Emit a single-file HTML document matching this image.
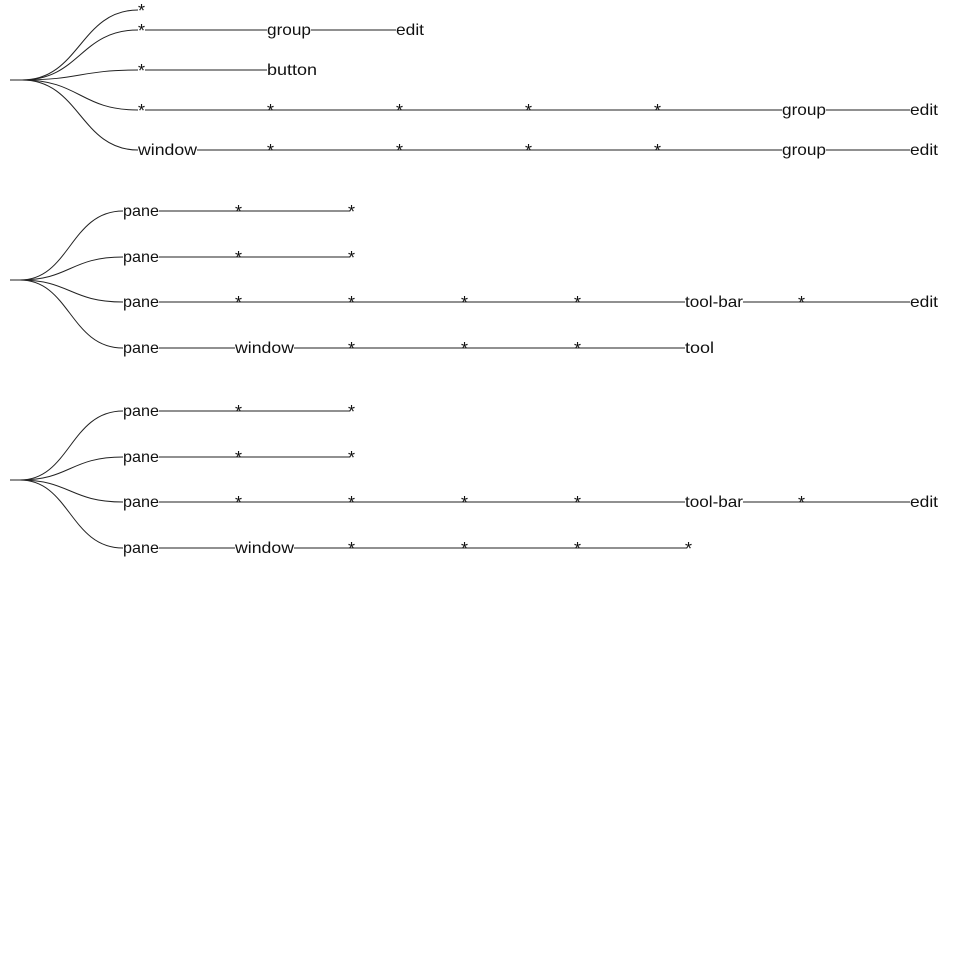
<!DOCTYPE html>
<html><head><meta charset="utf-8"><style>
html,body{margin:0;padding:0;background:#fff;width:960px;height:960px;overflow:hidden}
text{font-family:"Liberation Sans",sans-serif;font-size:16px;fill:#111}
text.a{font-size:18px}
path,line{stroke:#222;stroke-width:1;fill:none}
</style></head><body>
<svg width="960" height="960" xmlns="http://www.w3.org/2000/svg">
<!-- Tree 1 -->
<path d="M10,80 L22,80 C80,80 80,10 138,10"/>
<path d="M10,80 L22,80 C80,80 80,30 138,30"/>
<path d="M10,80 L22,80 C80,80 80,70 138,70"/>
<path d="M10,80 L22,80 C80,80 80,110 138,110"/>
<path d="M10,80 L22,80 C80,80 80,150 138,150"/>
<text class="a" x="138" y="17">*</text>
<text class="a" x="138" y="37">*</text><line x1="145" y1="30" x2="267" y2="30"/>
<text x="267" y="35" textLength="44" lengthAdjust="spacingAndGlyphs">group</text><line x1="311" y1="30" x2="396" y2="30"/>
<text x="396" y="35" textLength="28" lengthAdjust="spacingAndGlyphs">edit</text>
<text class="a" x="138" y="77">*</text><line x1="145" y1="70" x2="267" y2="70"/>
<text x="267" y="75" textLength="50" lengthAdjust="spacingAndGlyphs">button</text>
<text class="a" x="138" y="117">*</text><line x1="145" y1="110" x2="782" y2="110"/>
<text class="a" x="267" y="117">*</text><text class="a" x="396" y="117">*</text><text class="a" x="525" y="117">*</text><text class="a" x="654" y="117">*</text>
<text x="782" y="115" textLength="44" lengthAdjust="spacingAndGlyphs">group</text><line x1="826" y1="110" x2="910" y2="110"/>
<text x="910" y="115" textLength="28" lengthAdjust="spacingAndGlyphs">edit</text>
<text x="138" y="155" textLength="59" lengthAdjust="spacingAndGlyphs">window</text><line x1="197" y1="150" x2="782" y2="150"/>
<text class="a" x="267" y="157">*</text><text class="a" x="396" y="157">*</text><text class="a" x="525" y="157">*</text><text class="a" x="654" y="157">*</text>
<text x="782" y="155" textLength="44" lengthAdjust="spacingAndGlyphs">group</text><line x1="826" y1="150" x2="910" y2="150"/>
<text x="910" y="155" textLength="28" lengthAdjust="spacingAndGlyphs">edit</text>

<!-- Tree 2 -->
<path d="M10,280 L20,280 C70,280 70,211 123,211"/>
<path d="M10,280 L20,280 C70,280 70,257 123,257"/>
<path d="M10,280 L20,280 C70,280 70,302 123,302"/>
<path d="M10,280 L20,280 C70,280 70,348 123,348"/>
<text x="123" y="216" textLength="36" lengthAdjust="spacingAndGlyphs">pane</text><line x1="159" y1="211" x2="350" y2="211"/>
<text class="a" x="235" y="218">*</text><text class="a" x="348" y="218">*</text>
<text x="123" y="262" textLength="36" lengthAdjust="spacingAndGlyphs">pane</text><line x1="159" y1="257" x2="350" y2="257"/>
<text class="a" x="235" y="264">*</text><text class="a" x="348" y="264">*</text>
<text x="123" y="307" textLength="36" lengthAdjust="spacingAndGlyphs">pane</text><line x1="159" y1="302" x2="685" y2="302"/>
<text class="a" x="235" y="309">*</text><text class="a" x="348" y="309">*</text><text class="a" x="461" y="309">*</text><text class="a" x="574" y="309">*</text>
<text x="685" y="307" textLength="58" lengthAdjust="spacingAndGlyphs">tool-bar</text><line x1="743" y1="302" x2="910" y2="302"/>
<text class="a" x="798" y="309">*</text>
<text x="910" y="307" textLength="28" lengthAdjust="spacingAndGlyphs">edit</text>
<text x="123" y="353" textLength="36" lengthAdjust="spacingAndGlyphs">pane</text><line x1="159" y1="348" x2="235" y2="348"/>
<text x="235" y="353" textLength="59" lengthAdjust="spacingAndGlyphs">window</text><line x1="294" y1="348" x2="685" y2="348"/>
<text class="a" x="348" y="355">*</text><text class="a" x="461" y="355">*</text><text class="a" x="574" y="355">*</text>
<text x="685" y="353" textLength="29" lengthAdjust="spacingAndGlyphs">tool</text>

<!-- Tree 3 -->
<path d="M10,480 L20,480 C70,480 70,411 123,411"/>
<path d="M10,480 L20,480 C70,480 70,457 123,457"/>
<path d="M10,480 L20,480 C70,480 70,502 123,502"/>
<path d="M10,480 L20,480 C70,480 70,548 123,548"/>
<text x="123" y="416" textLength="36" lengthAdjust="spacingAndGlyphs">pane</text><line x1="159" y1="411" x2="350" y2="411"/>
<text class="a" x="235" y="418">*</text><text class="a" x="348" y="418">*</text>
<text x="123" y="462" textLength="36" lengthAdjust="spacingAndGlyphs">pane</text><line x1="159" y1="457" x2="350" y2="457"/>
<text class="a" x="235" y="464">*</text><text class="a" x="348" y="464">*</text>
<text x="123" y="507" textLength="36" lengthAdjust="spacingAndGlyphs">pane</text><line x1="159" y1="502" x2="685" y2="502"/>
<text class="a" x="235" y="509">*</text><text class="a" x="348" y="509">*</text><text class="a" x="461" y="509">*</text><text class="a" x="574" y="509">*</text>
<text x="685" y="507" textLength="58" lengthAdjust="spacingAndGlyphs">tool-bar</text><line x1="743" y1="502" x2="910" y2="502"/>
<text class="a" x="798" y="509">*</text>
<text x="910" y="507" textLength="28" lengthAdjust="spacingAndGlyphs">edit</text>
<text x="123" y="553" textLength="36" lengthAdjust="spacingAndGlyphs">pane</text><line x1="159" y1="548" x2="235" y2="548"/>
<text x="235" y="553" textLength="59" lengthAdjust="spacingAndGlyphs">window</text><line x1="294" y1="548" x2="687" y2="548"/>
<text class="a" x="348" y="555">*</text><text class="a" x="461" y="555">*</text><text class="a" x="574" y="555">*</text>
<text class="a" x="685" y="555">*</text>
</svg>
</body></html>
